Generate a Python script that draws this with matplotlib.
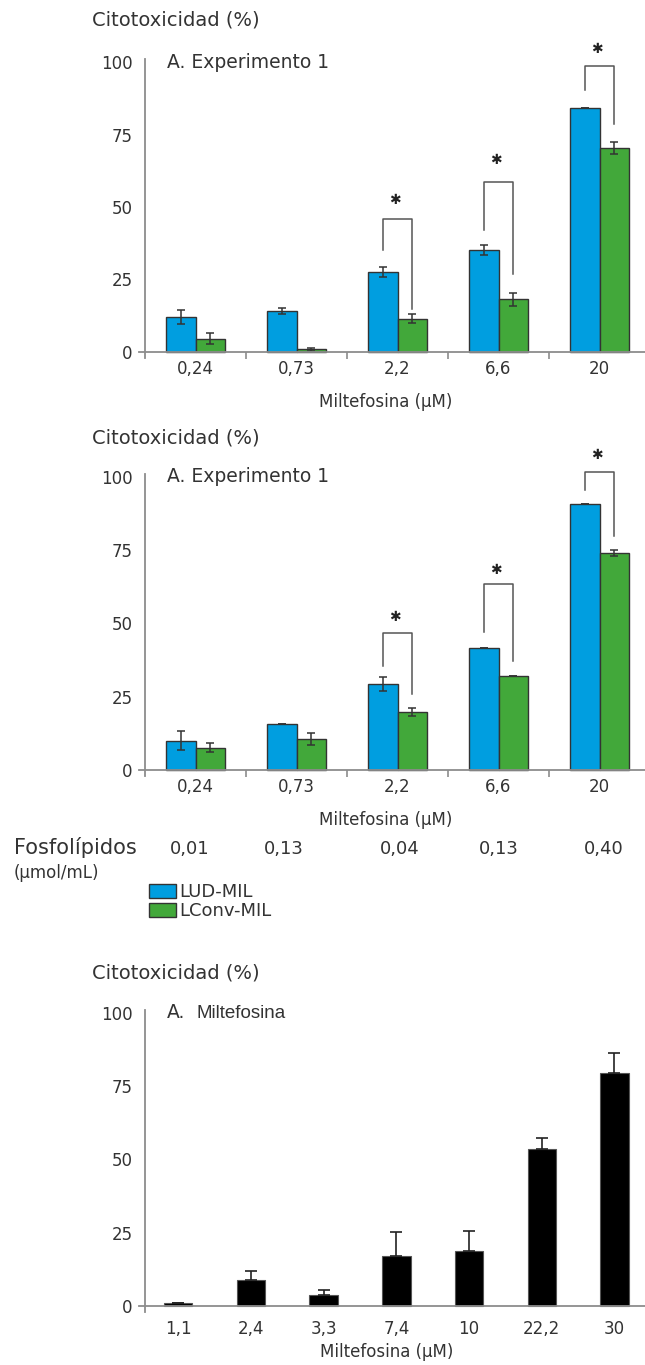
import numpy as np
import matplotlib.pyplot as plt
from matplotlib.transforms import blended_transform_factory

# Data
doses = ['0,24', '0,73', '2,2', '6,6', '20']

exp1_lud = [12.1, 14.1, 27.5, 35.3, 84.0]
exp1_lud_err = [2.4, 1.0, 1.8, 1.7, 0.0]
exp1_conv = [4.6, 0.9, 11.5, 18.2, 70.3]
exp1_conv_err = [2.0, 0.5, 1.6, 2.3, 2.1]
# brackets for groups 2,3,4: (left bottom, top, right bottom, star)
exp1_brackets = [(35.1, 46.0, 14.9, 52.3), (42.2, 58.6, 27.0, 66.3), (90.5, 98.6, 78.7, 104.6)]

exp2_lud = [10.0, 15.8, 29.5, 41.8, 90.9]
exp2_lud_err = [3.3, 0.0, 2.4, 0.0, 0.0]
exp2_conv = [7.6, 10.6, 19.9, 32.2, 74.1]
exp2_conv_err = [1.5, 1.9, 1.4, 0.0, 1.1]
exp2_brackets = [(35.6, 46.9, 26.1, 52.3), (47.2, 63.4, 37.3, 68.2), (95.5, 101.7, 79.8, 107.6)]

fosfolipidos = ['0,01', '0,13', '0,04', '0,13', '0,40']
fosfo_shift = [-0.06, -0.13, 0.02, 0.0, 0.04]  # labels sit a bit off the group centres

mil_doses = ['1,1', '2,4', '3,3', '7,4', '10', '22,2', '30']
mil_values = [0.9, 8.9, 3.9, 17.2, 18.8, 53.6, 79.5]
mil_err = [0.0, 3.2, 1.6, 7.9, 6.9, 3.7, 6.8]

BLUE = '#009ee0'
GREEN = '#42a83a'
EDGE = '#333333'
AXIS = '#8c8c8c'
TXT = '#333333'

W, H = 645, 1365
fig = plt.figure(figsize=(W / 100, H / 100), dpi=100)


def px_axes(x_left, x_right, y0, y100, ylim):
    # place an axes so that y=0 / y=100 land on given pixel rows
    ppu = (y0 - y100) / 100.0
    bot = y0 - ylim[0] * ppu
    top = y0 - ylim[1] * ppu
    ax = fig.add_axes([x_left / W, 1 - bot / H, (x_right - x_left) / W, (bot - top) / H])
    ax.set_ylim(*ylim)
    ax.patch.set_visible(False)
    return ax


def style_axes(ax, left_x):
    for s in ['top', 'right']:
        ax.spines[s].set_visible(False)
    ax.spines['bottom'].set_position(('data', 0))
    ax.spines['left'].set_position(('data', left_x))
    ax.spines['left'].set_bounds(-2.2, 101)
    for s in ['bottom', 'left']:
        ax.spines[s].set_color(AXIS)
        ax.spines[s].set_linewidth(1.3)
    ax.set_yticks([0, 25, 50, 75, 100])
    ax.tick_params(axis='y', length=0, pad=9, labelsize=12, labelcolor=TXT)


def ftext(x, y, s, **kw):
    kw.setdefault('color', TXT)
    fig.text(x / W, 1 - y / H, s, **kw)


def pair_chart(y0, y100, lud, lud_err, conv, conv_err, brackets, top_label_y):
    ax = px_axes(139, 645, y0, y100, (-2.5, 112))
    x = np.arange(len(doses))
    w = 0.29
    ekw = dict(ecolor=EDGE, elinewidth=1.1, capthick=1.1)
    b1 = ax.bar(x - w / 2, lud, w, yerr=lud_err, capsize=3, color=BLUE,
                edgecolor=EDGE, linewidth=1, error_kw=ekw)
    b2 = ax.bar(x + w / 2, conv, w, yerr=conv_err, capsize=3, color=GREEN,
                edgecolor=EDGE, linewidth=1, error_kw=ekw)
    ax.set_xlim(-0.56, 4.45)
    style_axes(ax, -0.5)
    ax.set_xticks(x)
    ax.set_xticklabels(doses)
    ax.set_xticks(np.arange(0.5, 4, 1), minor=True)
    ax.tick_params(axis='x', which='major', length=0, pad=6, labelsize=12, labelcolor=TXT)
    ax.tick_params(axis='x', which='minor', length=5, width=1.2, color=AXIS, direction='out')
    for gi, (lb, tp, rb, st) in zip([2, 3, 4], brackets):
        ax.plot([gi - w / 2, gi - w / 2, gi + w / 2, gi + w / 2], [lb, tp, tp, rb],
                color='#555555', lw=1.1)
        ax.text(gi - 0.03, st, '\u2731', ha='center', va='center', fontsize=10,
                color='#222222', family='DejaVu Sans')
    ftext(92, top_label_y, 'Citotoxicidad (%)', fontsize=14, va='center')
    ftext(167, y100, 'A. Experimento 1', fontsize=13.5, va='center')
    ftext(386, y0 + 50, 'Miltefosina (\u03bcM)', fontsize=12, ha='center', va='center')
    return ax, b1, b2


pair_chart(352, 62, exp1_lud, exp1_lud_err, exp1_conv, exp1_conv_err, exp1_brackets, 20)
ax2, h1, h2 = pair_chart(770, 477, exp2_lud, exp2_lud_err, exp2_conv, exp2_conv_err,
                         exp2_brackets, 438)

# Fosfolipidos row
ftext(14, 848, 'Fosfolípidos', fontsize=15, va='center')
ftext(14, 873, '(\u03bcmol/mL)', fontsize=12, va='center')
tr = blended_transform_factory(ax2.transData, fig.transFigure)
for i, (v, dx) in enumerate(zip(fosfolipidos, fosfo_shift)):
    ax2.text(i + dx, 1 - 849 / H, v, transform=tr, ha='center', va='center',
             fontsize=13, color=TXT)

fig.legend([h1, h2], ['LUD-MIL', 'LConv-MIL'], loc='upper left',
           bbox_to_anchor=(149 / W, 1 - 883 / H), frameon=False, fontsize=13,
           handlelength=1.5, handleheight=0.8, handletextpad=0.15,
           labelspacing=0.05, borderpad=0, borderaxespad=0, labelcolor=TXT)

# Bottom chart: miltefosina alone
ax3 = px_axes(139, 645, 1306, 1013, (-2.5, 102))
xm = np.arange(len(mil_doses))
ax3.bar(xm, mil_values, 0.39, color='black', edgecolor='#555555', linewidth=0.8,
        yerr=[np.zeros(len(mil_err)), mil_err], capsize=4,
        error_kw=dict(ecolor='#222222', elinewidth=1.2, capthick=1.2))
ax3.set_xlim(-0.54, 6.42)
style_axes(ax3, -0.455)
ax3.set_xticks(xm)
ax3.set_xticklabels(mil_doses)
ax3.tick_params(axis='x', length=0, pad=10, labelsize=12, labelcolor=TXT)
ftext(92, 973, 'Citotoxicidad (%)', fontsize=14, va='center')
ftext(167, 1013, 'A.', fontsize=13.5, va='center')
ftext(197, 1014, 'Miltefosina', fontsize=13.5, va='center', family='Liberation Sans')
ftext(387, 1352, 'Miltefosina (\u03bcM)', fontsize=12, ha='center', va='center')

fig.savefig('out.png', dpi=100)
